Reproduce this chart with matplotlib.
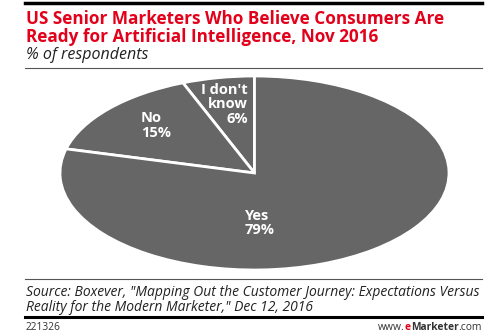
import matplotlib.pyplot as plt
from matplotlib.lines import Line2D

labels = ['I don\'t\nknow', 'No', 'Yes']
shares = [6, 15, 79]

W, H = 503, 335
plt.rcParams['font.family'] = ['Open Sans', 'DejaVu Sans']

fig = plt.figure(figsize=(W / 100, H / 100), dpi=100)


def fx(px):
    return px / W


def fy(py):
    return 1 - py / H


# pie axes, stretched into an ellipse
ax = fig.add_axes([fx(60), fy(270), fx(449) - fx(60), fy(76) - fy(270)])
wedges, _ = ax.pie(shares, startangle=90, counterclock=True, colors=['#666666'] * 3,
                   wedgeprops=dict(edgecolor='white', linewidth=2))
ax.set_aspect('auto')
ax.set_xlim(-1, 1)
ax.set_ylim(-1, 1)
ax.axis('off')

lab_pos = {0: (-0.035, 0.71, 'right'), 1: (-0.585, 0.49, 'left'), 2: (-0.05, -0.515, 'left')}
for i, (lab, val) in enumerate(zip(labels, shares)):
    x, y, ha = lab_pos[i]
    ax.text(x, y, f'{lab}\n{val}%', color='white', fontsize=10.5, fontweight='bold',
            ha=ha, va='center', linespacing=1.05, multialignment=ha)

# rules
fig.add_artist(Line2D([fx(25), fx(482)], [fy(3), fy(3)], color='black', lw=2.5))
fig.add_artist(Line2D([fx(25), fx(482)], [fy(68), fy(68)], color='#555555', lw=0.8))
fig.add_artist(Line2D([fx(25), fx(482)], [fy(279), fy(279)], color='#555555', lw=0.8))
fig.add_artist(Line2D([fx(25), fx(482)], [fy(317), fy(317)], color='black', lw=2.2))

fig.text(fx(26), fy(28), 'US Senior Marketers Who Believe Consumers Are\nReady for Artificial Intelligence, Nov 2016',
         color='#e2001a', fontsize=12.3, fontweight='bold', va='center', ha='left', linespacing=1.0)
fig.text(fx(26), fy(55), '% of respondents', fontsize=11.5, style='italic', va='center', ha='left', color='#222222')
src = fig.text(fx(26), fy(300), 'Source: Boxever, "Mapping Out the Customer Journey: Expectations Versus\n'
               'Reality for the Modern Marketer," Dec 12, 2016',
               fontsize=10, style='italic', va='center', ha='left', color='#222222', linespacing=0.95)
r = fig.canvas.get_renderer()
# fit the source note to the rule width
src.set_fontsize(10 * 455 / src.get_window_extent(r).width)

fig.text(fx(26), fy(328), '221326', fontsize=7.3, va='center', ha='left', color='#333333')

# footer brand, laid out piece by piece from the right
parts = [('www.', '#333333', 'normal'), ('e', '#e2001a', 'bold'),
         ('Marketer', '#333333', 'bold'), ('.com', '#333333', 'normal')]
x = 482
for txt, col, wt in reversed(parts):
    t = fig.text(fx(x), fy(328), txt, fontsize=7.4, va='center', ha='right', color=col, fontweight=wt)
    x -= t.get_window_extent(r).width

fig.savefig('out.png', dpi=100)
